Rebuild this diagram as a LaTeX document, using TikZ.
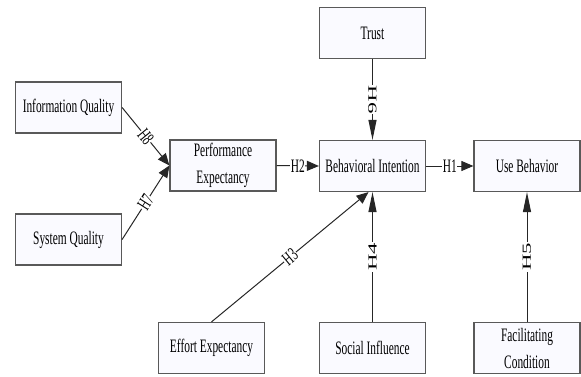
\documentclass[tikz,border=0pt]{standalone}
\usepackage{fontspec}
\newfontfamily\boxfont[FakeStretch=0.6]{Liberation Serif}
\usetikzlibrary{arrows.meta}

\tikzset{
 construct/.style={draw=black!65, line width=1.2pt, fill=blue!2, minimum width=106pt, minimum height=51pt, inner sep=1pt, align=center, font=\boxfont\fontsize{19}{27}\selectfont},
 link/.style={draw=black!85, line width=1pt, -{Triangle[length=12pt,width=10pt]}},
 vlink/.style={link, -{Triangle[length=20pt,width=8pt]}},
 hyp/.style={fill=white, inner sep=0.5pt, font=\boxfont\fontsize{19}{22}\selectfont},
 vhyp/.style={hyp, xscale=2, yscale=0.65},
}

\begin{document}
\begin{tikzpicture}[x=1pt,y=1pt]
 \useasboundingbox (0,0) rectangle (581,376);

 \node[construct] (infoq) at (68.5,268.5) {Information Quality};
 \node[construct] (sysq) at (68.5,136.5) {System Quality};
 \node[construct] (perfexp) at (223,210.5) {Performance\\Expectancy};
 \node[construct] (trust) at (372.5,343) {Trust};
 \node[construct] (behint) at (372.5,210) {Behavioral Intention};
 \node[construct] (useb) at (527,210) {Use Behavior};
 \node[construct] (effexp) at (211.5,28) {Effort Expectancy};
 \node[construct] (socinf) at (372.5,28) {Social Influence};
 \node[construct] (facond) at (527,28) {Facilitating\\Condition};

 %\draw[step=10pt, gray, very thin] (0,0) grid (581,376);
 \draw[link] (infoq.east) -- node[hyp,sloped] {H8} (perfexp.west);
 \draw[link] (sysq.east) -- node[hyp,sloped] {H7} (perfexp.west);
 \draw[link] (perfexp.east) -- node[hyp] {H2} (behint.west);
 \draw[link] (behint.east) -- node[hyp] {H1} (useb.west);
 \draw[vlink] (trust.south) -- node[rotate=-90,vhyp] {H6} (behint.south |- behint.north);
 \draw[link] (effexp.north) -- node[hyp,sloped] {H3} ([xshift=-4pt]behint.south);
 \draw[vlink] (socinf.north) -- node[rotate=90,vhyp] {H4} (behint.south);
 \draw[vlink] (facond.north) -- node[rotate=90,vhyp] {H5} (useb.south);
\end{tikzpicture}
\end{document}
